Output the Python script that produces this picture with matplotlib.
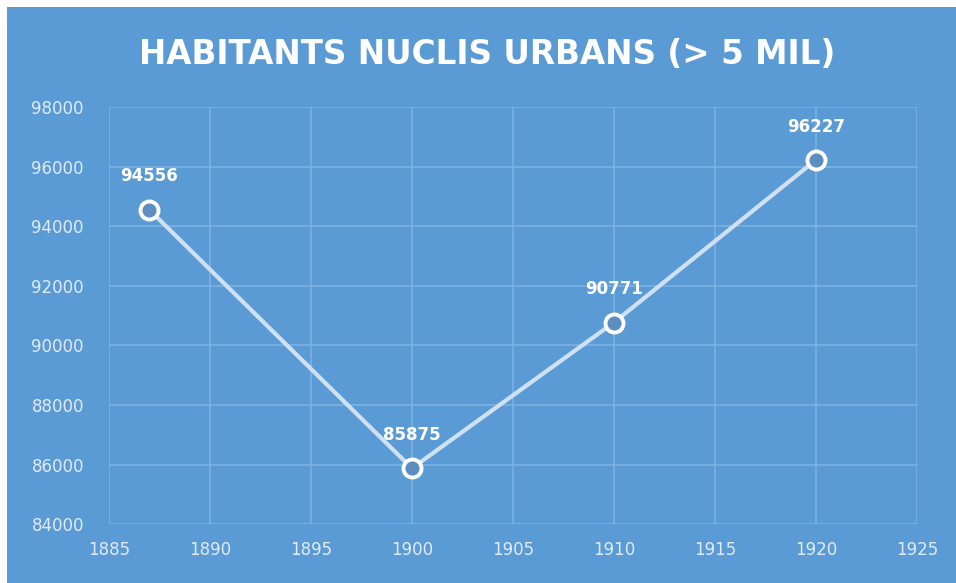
import matplotlib.pyplot as plt
from matplotlib.patches import Rectangle

years = [1887, 1900, 1910, 1920]
habitants = [94556, 85875, 90771, 96227]
x_ticks = [1885, 1890, 1895, 1900, 1905, 1910, 1915, 1920, 1925]
y_ticks = [84000, 86000, 88000, 90000, 92000, 94000, 96000, 98000]

bg = '#5b9bd5'

fig = plt.figure(figsize=(9.56, 5.83), dpi=100)
fig.patch.set_facecolor('white')
fig.patches.append(Rectangle((7 / 956, 0), 1, 1 - 7 / 583, transform=fig.transFigure,
                             facecolor=bg, edgecolor='none', zorder=-10))

ax = fig.add_axes([0.114, 0.101, 0.845, 0.715])
ax.set_facecolor(bg)
for s in ax.spines.values():
    s.set_visible(False)

ax.set_xlim(1885, 1925)
ax.set_ylim(84000, 98000)
ax.set_xticks(x_ticks)
ax.set_yticks(y_ticks)
ax.grid(True, color='#80b2e2', linewidth=1.1)
ax.set_axisbelow(True)
ax.tick_params(length=0, colors='#dfeaf6', labelsize=12)
ax.tick_params(axis='x', pad=12)
ax.tick_params(axis='y', pad=18)

ax.plot(years, habitants, color='#cfe0f2', linewidth=3, marker='o', markersize=13,
        markerfacecolor='#5d8ec2', markeredgecolor='white', markeredgewidth=2.8, zorder=3)

for x, y in zip(years, habitants):
    ax.annotate(str(y), (x, y), xytext=(0, 24), textcoords='offset points',
                ha='center', va='center', color='white', fontsize=12, fontweight='bold')

fig.text(0.51, 0.906, 'HABITANTS NUCLIS URBANS (> 5 MIL)', ha='center', va='center',
         color='white', fontsize=23.5, fontweight='bold')

fig.savefig('out.png', dpi=100, facecolor=fig.get_facecolor())
